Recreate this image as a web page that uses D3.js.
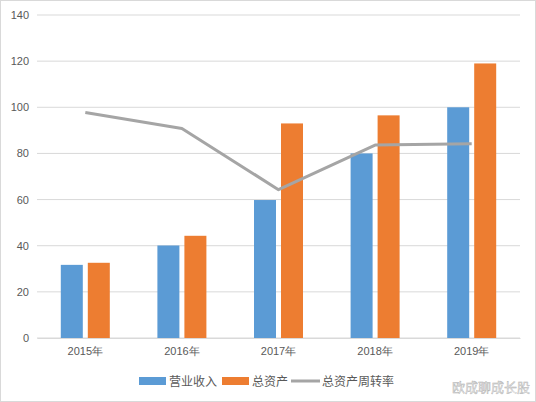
<!DOCTYPE html>
<html><head><meta charset="utf-8">
<script src="https://cdn.jsdelivr.net/npm/d3@7"></script>
<style>body{margin:0;background:#fff}svg{display:block;font-family:"Noto Sans CJK SC","Microsoft YaHei",sans-serif}</style>
</head><body><svg id="c" width="536" height="402"></svg>
<script>
const categories = ["2015年","2016年","2017年","2018年","2019年"];
const revenue = [31.7, 40.1, 59.8, 80, 100];
const totalAssets = [32.6, 44.3, 93, 96.5, 119];
const turnover = [97.7, 90.8, 64.3, 83.6, 84.2];
const yTicks = [0,20,40,60,80,100,120,140];
const seriesNames = ["营业收入","总资产","总资产周转率"];
const colors = ["#5b9bd5","#ed7d31","#a5a5a5"];

const svg = d3.select("#c");
svg.append("rect").attr("x",0.5).attr("y",0.5).attr("width",535).attr("height",401)
  .attr("fill","#fff").attr("stroke","#d9d9d9");

const x = d3.scaleBand().domain(categories).range([37,520]);
const y = d3.scaleLinear().domain([0,140]).range([338,15]);

const grid = svg.append("g");
grid.selectAll("line").data(yTicks).join("line")
  .attr("x1",37).attr("x2",520).attr("y1",d=>y(d)).attr("y2",d=>y(d))
  .attr("stroke","#d9d9d9").attr("stroke-width",1);

const yAxis = svg.append("g").attr("transform","translate(37,0)")
  .call(d3.axisLeft(y).tickValues(yTicks).tickSize(0).tickPadding(8));
yAxis.select(".domain").remove();
yAxis.selectAll("text").attr("fill","#595959").style("font-size","11px").style("font-family","Liberation Sans, Arial, sans-serif");

const xAxis = svg.append("g").attr("transform","translate(0,338)")
  .call(d3.axisBottom(x).tickSize(0).tickPadding(9));
xAxis.select(".domain").attr("stroke","#d9d9d9");
xAxis.selectAll("text").attr("fill","#595959").style("font-size","11px");

const bw = 22, gap = 5;
svg.append("g").selectAll("rect").data(categories).join("rect")
  .attr("x",d=>x(d)+x.bandwidth()/2-gap/2-bw).attr("width",bw)
  .attr("y",(d,i)=>y(revenue[i])).attr("height",(d,i)=>y(0)-y(revenue[i]))
  .attr("fill",colors[0]);
svg.append("g").selectAll("rect").data(categories).join("rect")
  .attr("x",d=>x(d)+x.bandwidth()/2+gap/2).attr("width",bw)
  .attr("y",(d,i)=>y(totalAssets[i])).attr("height",(d,i)=>y(0)-y(totalAssets[i]))
  .attr("fill",colors[1]);

const line = d3.line().x((d,i)=>x(categories[i])+x.bandwidth()/2).y(d=>y(d));
svg.append("path").datum(turnover).attr("d",line).attr("fill","none")
  .attr("stroke",colors[2]).attr("stroke-width",3).attr("stroke-linejoin","round");

// legend
const lg = svg.append("g").style("font-size","12px").attr("fill","#595959");
const items = [{x:139,t:"bar"},{x:222,t:"bar"},{x:291,t:"line"}];
items.forEach((it,i)=>{
  if(it.t==="bar") lg.append("rect").attr("x",it.x).attr("y",377).attr("width",27).attr("height",8).attr("fill",colors[i]);
  else lg.append("line").attr("x1",it.x).attr("x2",it.x+29).attr("y1",381).attr("y2",381).attr("stroke",colors[i]).attr("stroke-width",3);
  lg.append("text").attr("x",it.x+(it.t==="bar"?30:31)).attr("y",385.5).text(seriesNames[i]);
});

svg.append("text").attr("x",530).attr("y",392).attr("text-anchor","end")
  .style("font-size","13px").attr("fill","#e8e8e8").attr("stroke","#b0b0b0").attr("stroke-width",0.4)
  .text("欧成聊成长股");
</script></body></html>
